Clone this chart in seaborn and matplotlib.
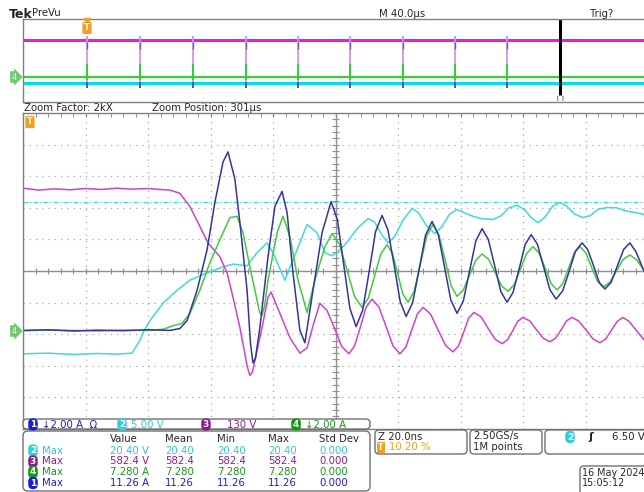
import matplotlib
matplotlib.use("Agg")
import numpy as np
import pandas as pd
import matplotlib.pyplot as plt
from matplotlib.patches import FancyBboxPatch
from matplotlib.ticker import MultipleLocator
import seaborn as sns

W, H = 644, 492

# zoom window traces: time in ns (20 ns/div), level in screen divisions
ch1_t = [0, 8, 16, 24, 32, 40, 47, 50.2, 52.5, 55.7, 58.9, 61.4, 64.0, 65.6, 67.8, 69.4, 71.7,
         72.8, 73.6, 74.4, 75.8, 78.4, 80.6, 82.9, 84.5, 86.4, 88.6, 90.2, 92.8, 95.7, 98.6,
         100.6, 102.6, 104.6, 106.6, 108.7, 110.8, 112.8, 114.9, 116.8, 118.8, 120.7, 122.6,
         124.7, 126.8, 128.8, 130.9, 132.9, 134.9, 136.9, 138.9, 140.9, 142.9, 144.9, 146.9,
         148.9, 150.9, 152.9, 154.9, 156.8, 158.8, 160.7, 162.6, 164.6, 166.6, 168.6, 170.6,
         172.7, 174.8, 176.8, 178.9, 180.7, 182.6, 184.4, 186.2, 188.2, 190.2, 192.2, 194.2,
         196.2, 198.7, 201]
ch1_v = [-1.88, -1.86, -1.90, -1.87, -1.89, -1.86, -1.88, -1.82, -1.57, -0.61, 0.67, 2.17, 3.45,
         3.77, 2.91, 1.53, -0.61, -2.3, -2.91, -2.75, -1.79, 0.45, 2.04, 2.52, 1.85, -0.06, -1.88,
         -2.27, -0.61, 1.21, 2.20, 1.62, 0.22, -1.18, -1.76, -1.24, 0.0, 1.24, 1.76, 1.29, 0.16,
         -0.97, -1.44, -1.0, 0.07, 1.13, 1.57, 1.15, 0.12, -0.92, -1.34, -0.95, 0.0, 0.95, 1.34,
         1.0, 0.18, -0.65, -0.99, -0.68, 0.08, 0.84, 1.15, 0.85, 0.13, -0.59, -0.89, -0.63, 0.0,
         0.63, 0.89, 0.68, 0.16, -0.36, -0.57, -0.36, 0.16, 0.68, 0.89, 0.6, 0.0, -0.45]

ch2_t = [0, 8, 16, 24, 30, 34.9, 37.4, 38.4, 40.6, 44.8, 49.3, 53.4, 58.9, 64.0, 67.2, 71.7,
         74.9, 78.1, 80.0, 83.8, 86.4, 90.9, 94.1, 96.6, 98.9, 101.4, 104, 107, 110.4, 112.5,
         114.8, 116.8, 119, 121.5, 124.5, 126.5, 129, 131.8, 134, 136.5, 138.9, 141, 144.0, 147,
         150.4, 153, 155.5, 158.1, 160.5, 162.5, 164.8, 167, 169.5, 171.8, 174, 176.5, 179.2,
         181.5, 184, 186.9, 190, 193, 196, 198.7, 201]
ch2_v = [-2.62, -2.60, -2.64, -2.61, -2.63, -2.60, -2.20, -1.95, -1.57, -1.02, -0.61, -0.29,
         -0.06, 0.13, 0.22, 0.16, 0.58, 0.89, 0.58, -0.29, 0.35, 1.47, 1.21, 0.58, 0.48, 0.67,
         0.95, 1.35, 1.66, 1.55, 1.15, 0.89, 1.1, 1.6, 1.98, 1.85, 1.45, 1.18, 1.4, 1.8, 1.95,
         1.85, 1.73, 1.65, 1.63, 1.75, 2.0, 2.08, 1.95, 1.7, 1.53, 1.7, 2.05, 2.17, 2.05, 1.8,
         1.69, 1.75, 1.95, 2.01, 2.0, 1.9, 1.85, 1.79, 1.75]

ch3_t = [0, 5, 10, 15, 20, 25, 30, 35, 40, 44, 47.0, 50.2, 53.4, 56.0, 59.2, 63.0, 65.3, 67.2,
         69.4, 71.0, 71.8, 72.6, 73.4, 74.2, 76.5, 78.4, 79.4, 82.2, 85.4, 88.6, 90.9, 92.8,
         95.0, 97.3, 99.7, 102.0, 104.3, 106.1, 108.0, 109.8, 111.7, 113.9, 116.2, 118.4, 120.6,
         122.5, 124.3, 126.2, 128.0, 130.4, 132.8, 135.2, 137.6, 139.3, 141.0, 142.6, 144.3,
         146.6, 148.8, 151.1, 153.3, 155.0, 156.7, 158.3, 160.0, 162.2, 164.3, 166.5, 168.6,
         170.4, 172.2, 173.9, 175.7, 177.9, 180.2, 182.4, 184.6, 186.5, 188.3, 190.2, 192.0,
         194.0, 196.0, 198.7, 201]
ch3_v = [2.62, 2.56, 2.60, 2.57, 2.61, 2.58, 2.62, 2.59, 2.61, 2.58, 2.56, 2.46, 2.04, 1.53,
         0.89, 0.45, -0.06, -0.83, -1.79, -2.62, -3.05, -3.30, -3.2, -2.84, -1.79, -0.83, -0.67,
         -1.34, -2.11, -2.60, -2.43, -1.73, -1.02, -1.25, -1.82, -2.39, -2.62, -2.37, -1.76,
         -1.14, -0.89, -1.14, -1.76, -2.37, -2.62, -2.41, -1.89, -1.36, -1.15, -1.36, -1.86,
         -2.35, -2.56, -2.38, -1.94, -1.49, -1.31, -1.45, -1.81, -2.16, -2.30, -2.18, -1.89,
         -1.59, -1.47, -1.58, -1.86, -2.13, -2.24, -2.13, -1.86, -1.58, -1.47, -1.59, -1.87,
         -2.15, -2.27, -2.15, -1.87, -1.59, -1.47, -1.6, -1.85, -2.17, -2.4]

ch4_t = [0, 8, 16, 24, 32, 40, 45, 48.0, 50.9, 53.4, 56.6, 59.8, 63.0, 66.2, 68.5, 70.4, 72.6,
         74.9, 75.7, 76.5, 77.3, 78.4, 81.3, 83.2, 85.4, 88.0, 90.9, 93.4, 96.6, 98.9, 101.3,
         103.7, 106.1, 108.5, 110.5, 112.5, 114.5, 116.5, 118.2, 119.9, 121.5, 123.2, 125.2,
         127.2, 129.2, 131.2, 133.1, 135.1, 137.0, 138.9, 140.9, 142.9, 144.9, 146.9, 149.0,
         151.1, 153.1, 155.2, 157.2, 159.2, 161.2, 163.2, 165.1, 167.1, 169.0, 170.9, 172.7,
         174.6, 176.4, 178.2, 180.1, 181.9, 183.8, 185.6, 187.8, 189.9, 192.0, 194.2, 196.4,
         198.7, 201]
ch4_v = [-1.89, -1.87, -1.88, -1.90, -1.87, -1.88, -1.84, -1.73, -1.66, -1.34, -0.61, 0.26,
         0.99, 1.69, 1.73, 1.21, 0.13, -0.93, -1.3, -1.41, -1.1, -0.29, 1.21, 1.73, 1.09, -0.29,
         -1.31, -0.29, 0.77, 1.18, 0.84, 0.02, -0.81, -1.15, -0.86, -0.16, 0.54, 0.83, 0.56,
         -0.08, -0.72, -0.99, -0.63, 0.24, 1.11, 1.47, 1.14, 0.34, -0.47, -0.80, -0.60, -0.13,
         0.34, 0.54, 0.37, -0.05, -0.47, -0.64, -0.43, 0.07, 0.56, 0.77, 0.57, 0.09, -0.40,
         -0.60, -0.40, 0.09, 0.57, 0.77, 0.58, 0.13, -0.32, -0.51, -0.36, 0.0, 0.36, 0.51, 0.35,
         0.03, -0.3]

ch2_ref_level = 2.17

# overview record (time in us, 40 us/div)
spike_times = [41.0, 74.9, 108.8, 142.7, 176.0, 209.3, 243.2, 276.5, 309.8]
cursor_time = 343.7
ov_channels = ["2", "4", "3"]
ov_levels = [-2.7, -2.0, 2.5]

# channel settings + measurements
chan_ids = ["1", "2", "3", "4"]
chan_scale = ["\u21932.00 A  \u03a9", "5.00 V", "130 V", "\u21932.00 A"]
meas_ch = ["2", "3", "4", "1"]
meas_value = ["20.40 V", "582.4 V", "7.280 A", "11.26 A"]
meas_mean = ["20.40", "582.4", "7.280", "11.26"]
meas_min = ["20.40", "582.4", "7.280", "11.26"]
meas_max = ["20.40", "582.4", "7.280", "11.26"]
meas_std = ["0.000", "0.000", "0.000", "0.000"]

trace_col = {"1": "#34349c", "2": "#3fdada", "3": "#cc44cc", "4": "#44c844"}
ov_col = {"1": "#3434c0", "2": "#00e0e6", "3": "#e020e0", "4": "#38d038"}
badge_col = {"1": "#1c1cd8", "2": "#30d0d8", "3": "#8c1c8c", "4": "#109a10"}
text_col = {"1": "#1c1cd0", "2": "#30c8d0", "3": "#8c1c8c", "4": "#1a961a"}
orange = "#f0a020"
frame = "#808080"

sns.set_style("white")
plt.rcParams["font.family"] = ["DejaVu Sans"]

fig = plt.figure(figsize=(W / 100, H / 100), dpi=100)

# ---------- main zoom graticule
ax = fig.add_axes([23 / W, 1 - 429 / H, 625 / W, 316 / H])
ax.set_xlim(0, 200)
ax.set_ylim(-5, 5)
for s in ax.spines.values():
    s.set_color(frame)
    s.set_linewidth(1)
ax.xaxis.set_major_locator(MultipleLocator(20))
ax.xaxis.set_minor_locator(MultipleLocator(4))
ax.yaxis.set_major_locator(MultipleLocator(1))
ax.yaxis.set_minor_locator(MultipleLocator(0.2))
ax.tick_params(which="both", direction="in", length=3, color=frame, top=True, right=True,
               labelbottom=False, labelleft=False)
ax.grid(True, which="major", color="#a8a8a8", lw=0.9, ls=(0, (1, 4)))
ax.axhline(0, color="#909090", lw=1)
ax.axvline(100, color="#909090", lw=1)
mx = np.arange(0, 201, 4)
my = np.arange(-5, 5.01, 0.2)
ax.vlines(mx, -0.1, 0.1, color="#909090", lw=0.8)
ax.hlines(my, 99, 101, color="#909090", lw=0.8)
ax.axhline(ch2_ref_level, color=trace_col["2"], lw=0.9, ls=(0, (4, 1.5, 1, 1.5)))

df = pd.concat([
    pd.DataFrame({"t": ch2_t, "v": ch2_v, "ch": "2"}),
    pd.DataFrame({"t": ch3_t, "v": ch3_v, "ch": "3"}),
    pd.DataFrame({"t": ch4_t, "v": ch4_v, "ch": "4"}),
    pd.DataFrame({"t": ch1_t, "v": ch1_v, "ch": "1"}),
])
for ch in ["2", "3", "4", "1"]:
    sub = df[df.ch == ch]
    sns.lineplot(data=sub, x="t", y="v", ax=ax, color=trace_col[ch], lw=1.1,
                 sort=False, estimator=None)
ax.set_xlabel("")
ax.set_ylabel("")

# ---------- overview record
ov = fig.add_axes([23 / W, 1 - 102 / H, 625 / W, 83 / H])
ov.set_xlim(0, 400)
ov.set_ylim(-5, 5)
ov.set_xticks([])
ov.set_yticks([])
for s in ov.spines.values():
    s.set_color(frame)
    s.set_linewidth(1)
for ch, lv in zip(ov_channels, ov_levels):
    ov.axhline(lv, color=ov_col[ch], lw=2.2 if ch != "4" else 1.6)
ov.vlines(spike_times, -3.3, 2.95, color="#d890e8", lw=1.3)
ov.vlines(spike_times, -0.4, -2.3, color="#30d030", lw=1.4)
ov.vlines(spike_times, -3.3, -2.6, color="#4040c0", lw=1.2)
ov.vlines(spike_times, 2.2, 1.4, color="#6060d0", lw=1.0)
ov.vlines([cursor_time], -4.2, 4.95, color="black", lw=2.2)

# ---------- overlay for screen annotations (pixel coordinates)
bg = fig.add_axes([0, 0, 1, 1], zorder=10)
bg.set_xlim(0, W)
bg.set_ylim(H, 0)
bg.axis("off")
bg.patch.set_alpha(0)


def box(x0, y0, x1, y1, r=4):
    bg.add_patch(FancyBboxPatch((x0, y0), x1 - x0, y1 - y0,
                                boxstyle=f"round,pad=0,rounding_size={r}",
                                fc="white", ec="#707070", lw=1))


def badge(x, y, s, c, fs=6.5):
    bg.text(x, y, s, color="white", fontsize=fs, fontweight="bold", ha="center", va="center",
            bbox=dict(boxstyle="round,pad=0.18,rounding_size=0.5", fc=c, ec="none"))


fs = 7.3
bg.text(9, 14, "Tek", fontsize=9, fontweight="bold", va="center")
bg.text(32, 13, "PreVu", fontsize=fs, va="center")
bg.text(379, 14, "M 40.0\u00b5s", fontsize=fs, va="center")
bg.text(590, 14, "Trig?", fontsize=fs, va="center")
bg.text(24, 108, "Zoom Factor: 2kX", fontsize=fs, va="center")
bg.text(152, 108, "Zoom Position: 301\u00b5s", fontsize=fs, va="center")
bg.text(560, 98, "[ ]", fontsize=4.5, ha="center", va="center")

# trigger markers
bg.text(87, 28, "T", color="white", fontsize=6, fontweight="bold", ha="center", va="center",
        bbox=dict(boxstyle="round,pad=0.2", fc=orange, ec="none"))
bg.plot([87], [21], marker="v", color=orange, ms=4)
bg.text(30, 122, "T", color="white", fontsize=6, fontweight="bold", ha="center", va="center",
        bbox=dict(boxstyle="round,pad=0.2", fc=orange, ec="none"))
# channel 4 ground markers
for yy in (77, 331):
    bg.text(14, yy, "4", color="#e8ffe8", fontsize=6, ha="center", va="center",
            bbox=dict(boxstyle="rarrow,pad=0.15", fc="#70c870", ec="none"))

# channel bar
box(23, 419, 370, 429, r=4)
chan_x = [33, 122, 206, 296]
for cid, sc, xx in zip(chan_ids, chan_scale, chan_x):
    badge(xx, 424.5, cid, badge_col[cid])
    bg.text(xx + 9 if cid != "3" else xx + 21, 424.5, sc, color=text_col[cid], fontsize=fs,
            va="center")

# measurement table
box(23, 431, 370, 491, r=5)
cols_x = [110, 165, 217, 268, 319]
for hx, hs in zip(cols_x, ["Value", "Mean", "Min", "Max", "Std Dev"]):
    bg.text(hx, 439, hs, fontsize=fs, va="center")
row_y = [450.5, 461.5, 472, 483]
for ch, vv, mn, mi, ma, sd, yy in zip(meas_ch, meas_value, meas_mean, meas_min, meas_max,
                                      meas_std, row_y):
    badge(33, yy, ch, badge_col[ch])
    bg.text(42, yy, "Max", color=text_col[ch], fontsize=fs, va="center")
    for xx, s in zip(cols_x, [vv, mn, mi, ma, sd]):
        bg.text(xx, yy, s, color=text_col[ch], fontsize=fs, va="center")

# timebase / acquisition / trigger boxes
box(375, 430, 467, 454, r=4)
bg.text(378, 436.5, "Z 20.0ns", fontsize=fs, va="center")
bg.text(378, 447.5, "T", color="white", fontsize=5.5, fontweight="bold", va="center",
        bbox=dict(boxstyle="square,pad=0.15", fc=orange, ec="none"))
bg.text(389, 447.5, "10.20 %", color=orange, fontsize=fs, va="center")
box(470, 430, 542, 454, r=4)
bg.text(473, 436.5, "2.50GS/s", fontsize=fs, va="center")
bg.text(473, 447.5, "1M points", fontsize=fs, va="center")
box(545, 430, 660, 454, r=4)
badge(570, 437, "2", badge_col["2"])
bg.text(588, 437, "\u0283", fontsize=8, fontweight="bold", va="center")
bg.text(612, 437, "6.50 V", fontsize=fs, va="center")
box(580, 466, 660, 495, r=4)
bg.text(582, 472.5, "16 May 2024", fontsize=6.9, va="center")
bg.text(582, 483, "15:05:12", fontsize=6.9, va="center")

fig.savefig("out.png", dpi=100)
